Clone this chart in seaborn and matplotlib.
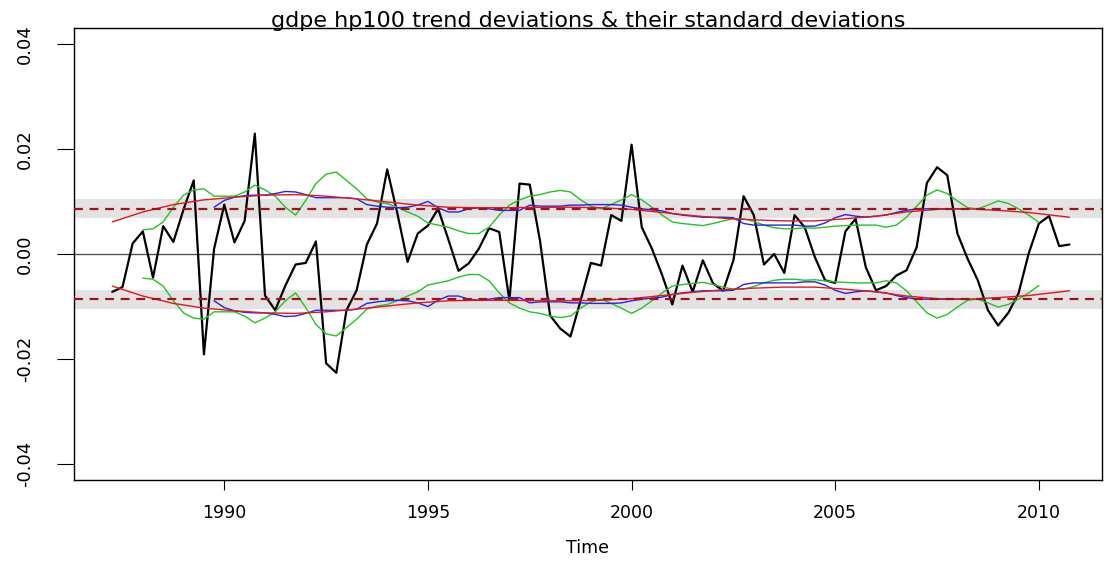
import numpy as np
import pandas as pd
import matplotlib
matplotlib.use("Agg")
import matplotlib.pyplot as plt
import seaborn as sns

# ---------------- data ----------------
start_year = 1987.25          # first quarter (1987 Q2)
quarter = 0.25

deviation = [
    -0.0072, -0.0063, 0.0020, 0.0043, -0.0045, 0.0053, 0.0023, 0.0085, 0.0140, -0.0191,
    0.0010, 0.0094, 0.0022, 0.0063, 0.0229, -0.0079, -0.0107, -0.0060, -0.0020, -0.0017,
    0.0024, -0.0208, -0.0226, -0.0107, -0.0069, 0.0018, 0.0058, 0.0161, 0.0077, -0.0015,
    0.0039, 0.0054, 0.0086, 0.0028, -0.0032, -0.0018, 0.0010, 0.0049, 0.0042, -0.0088,
    0.0134, 0.0132, 0.0026, -0.0117, -0.0142, -0.0157, -0.0088, -0.0017, -0.0022, 0.0074,
    0.0063, 0.0208, 0.0051, 0.0010, -0.0040, -0.0096, -0.0022, -0.0072, -0.0012, -0.0056,
    -0.0070, -0.0012, 0.0110, 0.0074, -0.0020, 0.0000, -0.0036, 0.0074, 0.0051, -0.0006,
    -0.0050, -0.0055, 0.0043, 0.0067, -0.0025, -0.0069, -0.0061, -0.0041, -0.0031, 0.0013,
    0.0135, 0.0165, 0.0150, 0.0039, -0.0009, -0.0050, -0.0107, -0.0136, -0.0112, -0.0075,
    0.0001, 0.0058, 0.0072, 0.0015, 0.0018,
]

# short-window rolling sd (green), starts at quarter index 3
sd_short_start = 3
sd_short = [
    0.0046, 0.0048, 0.0061, 0.0089, 0.0112, 0.0122, 0.0124, 0.0110, 0.0110, 0.0110,
    0.0118, 0.0131, 0.0122, 0.0110, 0.0089, 0.0074, 0.0102, 0.0134, 0.0152, 0.0156,
    0.0140, 0.0124, 0.0105, 0.0099, 0.0096, 0.0089, 0.0080, 0.0072, 0.0059, 0.0055,
    0.0051, 0.0044, 0.0039, 0.0039, 0.0051, 0.0074, 0.0093, 0.0103, 0.0110, 0.0113,
    0.0118, 0.0121, 0.0118, 0.0103, 0.0091, 0.0086, 0.0094, 0.0103, 0.0113, 0.0103,
    0.0089, 0.0074, 0.0061, 0.0058, 0.0056, 0.0054, 0.0058, 0.0063, 0.0067, 0.0067,
    0.0062, 0.0055, 0.0050, 0.0048, 0.0048, 0.0050, 0.0049, 0.0051, 0.0053, 0.0054,
    0.0055, 0.0055, 0.0055, 0.0051, 0.0055, 0.0070, 0.0091, 0.0112, 0.0122, 0.0115,
    0.0101, 0.0088, 0.0086, 0.0093, 0.0101, 0.0096, 0.0086, 0.0074, 0.0060,
]

# medium-window rolling sd (blue), starts at quarter index 10
sd_mid_start = 10
sd_mid = [
    0.0089, 0.0102, 0.0108, 0.0111, 0.0112, 0.0112, 0.0115, 0.0119, 0.0118, 0.0113,
    0.0107, 0.0107, 0.0107, 0.0107, 0.0105, 0.0094, 0.0091, 0.0089, 0.0088, 0.0089,
    0.0093, 0.0100, 0.0088, 0.0080, 0.0080, 0.0086, 0.0088, 0.0086, 0.0083, 0.0083,
    0.0083, 0.0093, 0.0091, 0.0091, 0.0091, 0.0093, 0.0093, 0.0094, 0.0094, 0.0094,
    0.0093, 0.0089, 0.0086, 0.0084, 0.0082, 0.0077, 0.0074, 0.0072, 0.0070, 0.0070,
    0.0070, 0.0069, 0.0058, 0.0055, 0.0055, 0.0055, 0.0055, 0.0055, 0.0053, 0.0053,
    0.0059, 0.0069, 0.0075, 0.0072, 0.0070, 0.0072, 0.0074, 0.0079, 0.0083, 0.0086,
    0.0086, 0.0086, 0.0086, 0.0086, 0.0086,
]

# long-window smooth sd (red), read every third quarter
sd_long_index = [0, 3, 6, 9, 12, 15, 18, 21, 24, 27, 30, 33, 36, 39, 42, 45, 48, 51,
                 54, 57, 60, 63, 66, 69, 72, 75, 78, 81, 84, 87, 90, 94]
sd_long = [0.0061, 0.0080, 0.0094, 0.0103, 0.0108, 0.0112, 0.0113, 0.0110, 0.0105,
           0.0099, 0.0093, 0.0089, 0.0088, 0.0088, 0.0089, 0.0089, 0.0088, 0.0085,
           0.0079, 0.0073, 0.0068, 0.0065, 0.0063, 0.0063, 0.0067, 0.0072, 0.0080,
           0.0085, 0.0086, 0.0083, 0.0079, 0.0070]

sd_overall = 0.0086      # dashed reference level
band_half = 0.0018       # half width of grey band

y_ticks = [-0.04, -0.02, 0.0, 0.02, 0.04]
y_tick_labels = ["-0.04", "-0.02", "0.00", "0.02", "0.04"]
x_ticks = [1990, 1995, 2000, 2005, 2010]
x_tick_labels = ["1990", "1995", "2000", "2005", "2010"]
title = "gdpe hp100 trend deviations & their standard deviations"
x_label = "Time"

# ---------------- tables ----------------
def times(idx):
    return [start_year + quarter * i for i in idx]

dev_df = pd.DataFrame({"t": times(range(len(deviation))), "v": deviation})
green_df = pd.DataFrame({"t": times(range(sd_short_start, sd_short_start + len(sd_short))),
                         "v": sd_short})
blue_df = pd.DataFrame({"t": times(range(sd_mid_start, sd_mid_start + len(sd_mid))),
                        "v": sd_mid})
red_df = pd.DataFrame({"t": times(sd_long_index), "v": sd_long})

# ---------------- plot ----------------
sns.set_theme(style="white")
plt.rcParams["font.family"] = ["DejaVu Sans"]
plt.rcParams["text.color"] = "black"
plt.rcParams["axes.labelcolor"] = "black"

fig = plt.figure(figsize=(11.04, 5.65), dpi=100)
ax = fig.add_axes([74 / 1104, 1 - 480 / 565, (1102 - 74) / 1104, (480 - 28) / 565])
ax.set_facecolor("white")

x_lo, x_hi = 1986.31, 2011.55
for s in (1, -1):
    ax.axhspan(s * (sd_overall - band_half), s * (sd_overall + band_half),
               color="#e3e3e3", lw=0, zorder=1)
ax.axhline(0, color="#555555", lw=1.0, zorder=2)

sns.lineplot(data=dev_df, x="t", y="v", ax=ax, color="black", lw=1.6,
             estimator=None, sort=False, zorder=3)
for df, col in ((green_df, "#22c422"), (blue_df, "#2424e8"), (red_df, "#e8141e")):
    for s in (1, -1):
        sns.lineplot(x=df["t"], y=s * df["v"], ax=ax, color=col, lw=1.0,
                     estimator=None, sort=False, zorder=4)

for s in (1, -1):
    ax.axhline(s * sd_overall, color="#a3121c", lw=1.6, ls=(0, (4, 3)), zorder=5)

ax.set_xlim(x_lo, x_hi)
ax.set_ylim(-0.043, 0.043)
ax.set_xticks(x_ticks)
ax.set_xticklabels(x_tick_labels, fontsize=12.5, color="black")
ax.set_yticks(y_ticks)
ax.set_yticklabels(y_tick_labels, fontsize=13, rotation=90, va="center", color="black")
ax.tick_params(axis="x", direction="out", length=7.5, width=0.8, pad=10, colors="black",
               bottom=True)
ax.tick_params(axis="y", direction="out", length=12, width=0.8, pad=17, colors="black",
               left=True)
ax.set_xlabel(x_label, fontsize=12.5, labelpad=12, color="black")
ax.set_ylabel("")
ax.set_title(title, fontsize=16, pad=1, color="black")
for sp in ax.spines.values():
    sp.set_visible(True)
    sp.set_color("black")
    sp.set_linewidth(1.0)
ax.grid(False)

fig.savefig("out.png", dpi=100)
